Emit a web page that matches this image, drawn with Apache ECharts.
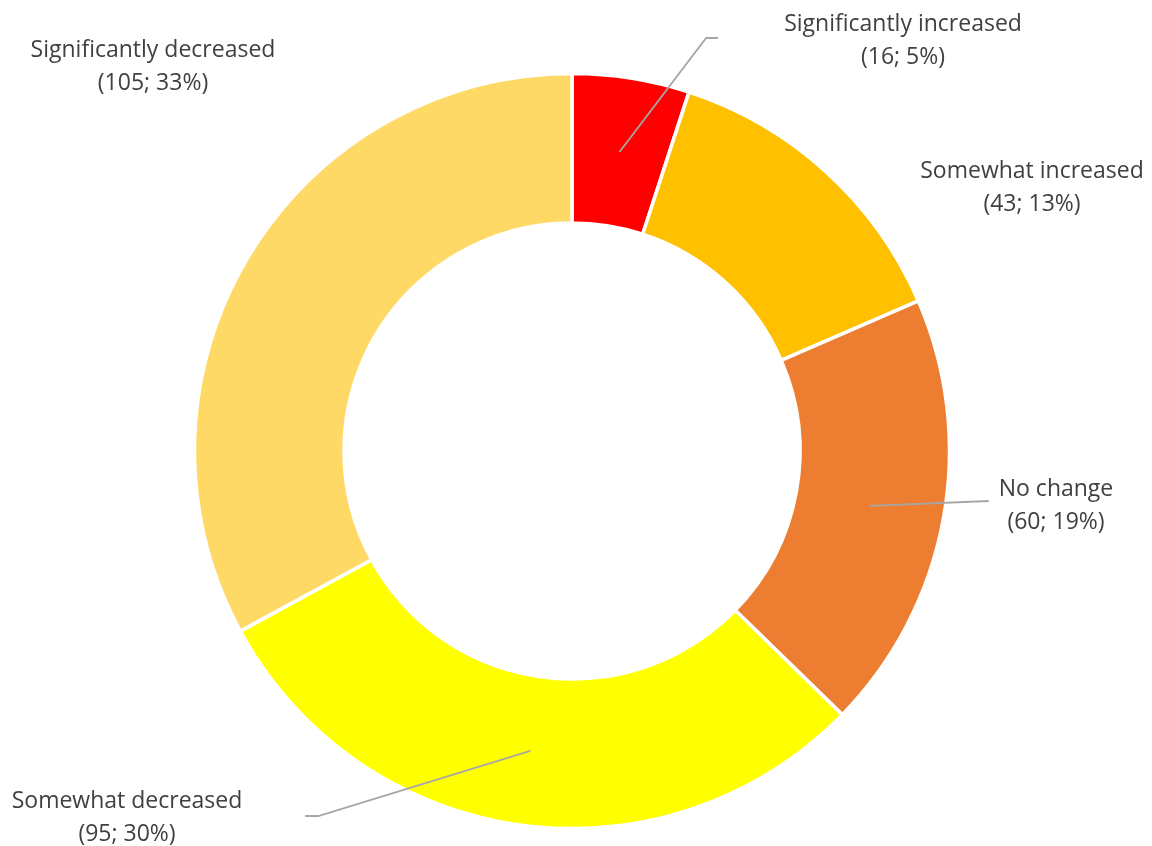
<!DOCTYPE html>
<html>
<head>
<meta charset="utf-8">
<script src="https://cdn.jsdelivr.net/npm/echarts@6/dist/echarts.min.js"></script>
<style>
  html, body { margin: 0; padding: 0; background: #ffffff; }
  #chart { width: 1152px; height: 846px; }
</style>
</head>
<body>
<div id="chart"></div>
<script>
// Survey responses, clockwise from 12 o'clock
const categories = ['Significantly increased', 'Somewhat increased', 'No change', 'Somewhat decreased', 'Significantly decreased'];
const counts = [16, 43, 60, 95, 105];
const sliceColors = ['#FF0000', '#FFC000', '#ED7D31', '#FFFF00', '#FFD966'];

// Where each label block sits (centre x, middle y) and how its leader line attaches
const labelSpots = [
  { x: 903,  y: 41,  line: 'left',  gap: 66, elbow: 12, dy: -3 },
  { x: 1032, y: 188, line: null },
  { x: 1056, y: 506, line: 'left',  gap: 10, elbow: 0,  dy: -5 },
  { x: 127,  y: 818, line: 'right', gap: 63, elbow: 13, dy: -2 },
  { x: 153,  y: 67,  line: null }
];

const CENTER = [572, 451];
const RING = [228, 377.5];
const MID_R = (RING[0] + RING[1]) / 2;

const ringData = categories.map((name, i) => ({
  name: name,
  value: counts[i],
  itemStyle: { color: sliceColors[i] }
}));

// A transparent pie reaching the middle of the ring: its labels and leader lines
// start from the centre of each band.
const labelData = categories.map((name, i) => ({
  name: name,
  value: counts[i],
  labelLine: { show: !!labelSpots[i].line }
}));

const chart = echarts.init(document.getElementById('chart'), null, { renderer: 'canvas' });

chart.setOption({
  backgroundColor: '#ffffff',
  animation: false,
  series: [
    {
      type: 'pie',
      center: CENTER,
      radius: RING,
      startAngle: 90,
      clockwise: true,
      avoidLabelOverlap: false,
      label: { show: false },
      labelLine: { show: false },
      itemStyle: { borderColor: '#ffffff', borderWidth: 3.5 },
      emphasis: { disabled: true },
      data: ringData
    },
    {
      type: 'pie',
      center: CENTER,
      radius: [0, MID_R],
      startAngle: 90,
      clockwise: true,
      silent: true,
      z: 5,
      percentPrecision: 0,
      avoidLabelOverlap: false,
      minShowLabelAngle: 0,
      itemStyle: { color: 'rgba(0,0,0,0)', borderWidth: 0 },
      emphasis: { disabled: true },
      label: {
        show: true,
        position: 'outside',
        alignTo: 'none',
        formatter: '{b}\n({c}; {d}%)',
        fontFamily: 'Open Sans',
        fontSize: 23,
        lineHeight: 33,
        color: '#404040',
        align: 'center'
      },
      labelLine: {
        length: 10,
        length2: 10,
        lineStyle: { color: '#A6A6A6', width: 1.8 }
      },
      labelLayout: function (p) {
        const s = labelSpots[p.dataIndex];
        const out = { x: s.x, y: s.y, align: 'center', verticalAlign: 'middle' };
        if (s.line && p.labelLinePoints) {
          const start = p.labelLinePoints[0];
          const half = p.labelRect.width / 2;
          const endX = s.line === 'left' ? s.x - half - s.gap : s.x + half + s.gap;
          const elbowX = s.line === 'left' ? endX - s.elbow : endX + s.elbow;
          const ly = s.y + s.dy;
          out.labelLinePoints = [start, [elbowX, ly], [endX, ly]];
        }
        return out;
      },
      data: labelData
    }
  ]
});
</script>
</body>
</html>
